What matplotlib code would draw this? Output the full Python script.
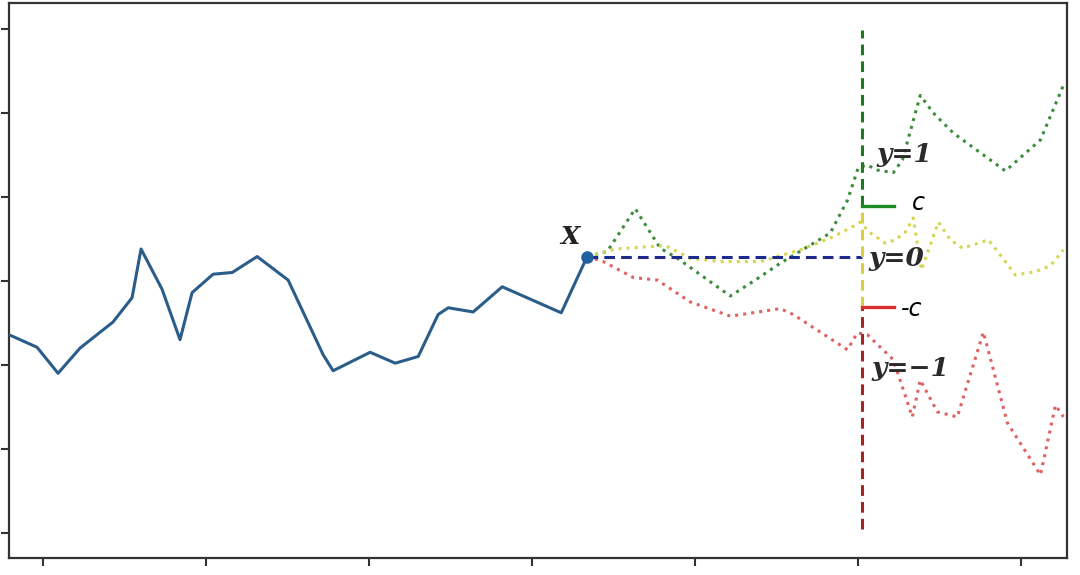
import matplotlib
matplotlib.use("Agg")
import matplotlib.pyplot as plt

# observed series (x in time units, y in value units)
hist_x = [-2.1, -0.37, 0.92, 2.27, 4.29, 5.46, 6.01, 7.30, 8.40, 9.14, 10.43, 11.60,
          13.13, 15.03, 17.18, 17.79, 20.06, 21.60, 23.01, 24.23, 24.85, 26.38, 28.16,
          31.78, 33.37]
hist_y = [-0.64, -0.79, -1.10, -0.80, -0.49, -0.20, 0.38, -0.10, -0.70, -0.14, 0.08, 0.10,
          0.29, 0.01, -0.88, -1.07, -0.85, -0.98, -0.90, -0.40, -0.32, -0.37, -0.07,
          -0.38, 0.29]

# future paths
up_x = [33.37, 34.60, 36.32, 37.85, 38.90, 42.15, 43.68, 45.21, 48.28, 49.33, 50.0,
        50.55, 51.17, 52.15, 52.70, 53.80, 54.60, 55.83, 59.02, 61.17, 62.58]
up_y = [0.29, 0.35, 0.86, 0.39, 0.27, -0.18, 0.01, 0.21, 0.57, 0.96, 1.35,
        1.38, 1.32, 1.29, 1.44, 2.21, 2.00, 1.76, 1.31, 1.68, 2.33]

flat_x = [33.37, 35.09, 36.63, 38.16, 39.69, 41.53, 43.99, 46.44, 48.28, 49.51, 50.12,
          50.74, 51.66, 52.27, 52.88, 53.37, 53.87, 54.91, 55.64, 56.38, 57.36, 57.98,
          59.02, 59.63, 60.86, 61.78, 62.58]
flat_y = [0.29, 0.38, 0.40, 0.42, 0.27, 0.23, 0.23, 0.37, 0.51, 0.63, 0.70,
          0.57, 0.45, 0.49, 0.58, 0.75, 0.13, 0.70, 0.49, 0.39, 0.45, 0.49,
          0.23, 0.07, 0.11, 0.18, 0.37]

down_x = [33.37, 34.36, 36.20, 37.67, 39.69, 42.15, 45.21, 46.01, 49.33, 49.94, 50.55,
          52.15, 53.31, 53.80, 54.85, 56.07, 57.67, 59.14, 61.17, 62.09, 62.58]
down_y = [0.29, 0.23, 0.04, 0.01, -0.25, -0.42, -0.33, -0.40, -0.82, -0.62, -0.64,
          -0.94, -1.62, -1.18, -1.56, -1.62, -0.61, -1.69, -2.31, -1.48, -1.62]

# barrier setup
x0, y0 = 33.37, 0.29
horizon = 50.2
c = 0.6
v_top, v_bottom = 2.99, -2.96
tick_len = 2.0

fig = plt.figure(figsize=(10.8, 5.75), dpi=100)
ax = fig.add_axes([0.0083, 0.0296, 0.9797, 0.9652])

ax.plot(hist_x, hist_y, color="#2b5d8a", lw=2.2, zorder=4)
ax.plot(up_x, up_y, color="#3d8c3d", lw=2.2, ls=":", zorder=3)
ax.plot(flat_x, flat_y, color="#d6d650", lw=2.2, ls=":", zorder=3)
ax.plot(down_x, down_y, color="#e06262", lw=2.2, ls=":", zorder=3)

dash = (0, (3.5, 2))
ax.plot([x0, horizon], [y0, y0], color="#1c2a8c", lw=2.2, ls=dash, zorder=5)
ax.plot([horizon, horizon], [y0 + c, v_top], color="#1f7a1f", lw=2.2, ls=dash, zorder=5)
ax.plot([horizon, horizon], [y0 - c, y0 + c], color="#d8d040", lw=2.2, ls=dash, zorder=5)
ax.plot([horizon, horizon], [v_bottom, y0 - c], color="#a52525", lw=2.2, ls=dash, zorder=5)
ax.plot([horizon, horizon + tick_len], [y0 + c, y0 + c], color="#1f8a1f", lw=2.4, zorder=6)
ax.plot([horizon, horizon + tick_len], [y0 - c, y0 - c], color="#d83030", lw=2.4, zorder=6)

ax.plot([x0], [y0], "o", color="#2060a0", ms=8, zorder=7)

lab = dict(family="DejaVu Serif", weight="bold", style="italic", fontsize=19,
           color="#2a2a2a", zorder=8, va="center", ha="left")
ax.text(51.1, 1.50, "y=1", **lab)
ax.text(50.6, 0.27, "y=0", **lab)
ax.text(50.8, -1.04, "y=\u22121", **lab)
ax.text(32.3, 0.52, "X", family="DejaVu Serif", weight="bold", style="italic",
        fontsize=18, color="#222222", ha="center", va="center")
ax.text(53.3, 0.93, "c", style="italic", fontsize=17, color="black",
        ha="left", va="center", family="DejaVu Sans")
ax.text(52.6, -0.34, "-c", style="italic", fontsize=17, color="black",
        ha="left", va="center", family="DejaVu Sans")

ax.set_xlim(-2.09, 62.8)
ax.set_ylim(-3.30, 3.31)
ax.set_xticks([0, 10, 20, 30, 40, 50, 60])
ax.set_yticks([-3, -2, -1, 0, 1, 2, 3])
ax.tick_params(labelleft=False, labelbottom=False, length=6, width=1.5, color="#333333")
for s in ax.spines.values():
    s.set_linewidth(1.6)
    s.set_color("#333333")

fig.savefig("out.png", dpi=100)
